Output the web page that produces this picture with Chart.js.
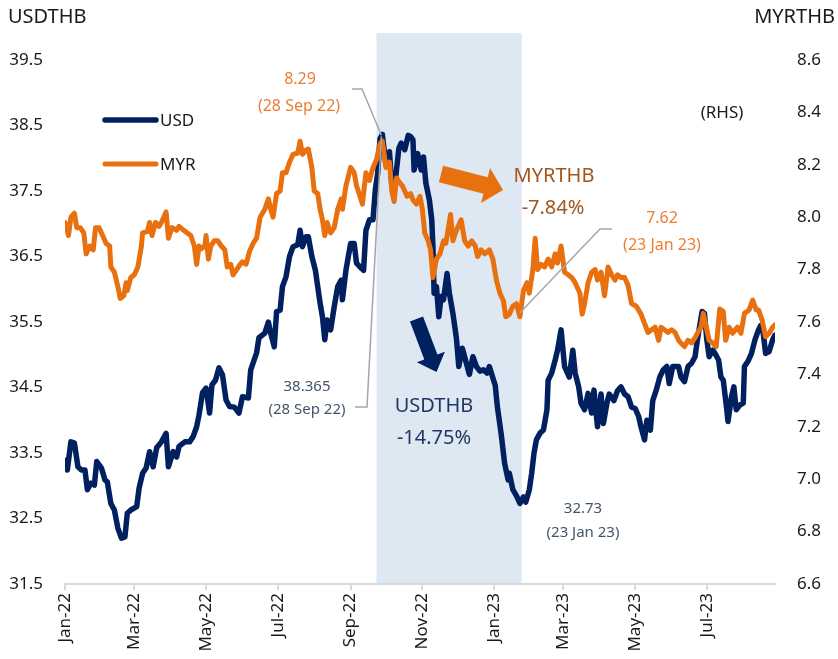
<!DOCTYPE html>
<html>
<head>
<meta charset="utf-8">
<script src="https://cdn.jsdelivr.net/npm/chart.js@4.4.0/dist/chart.umd.min.js"></script>
<style>
html, body { margin: 0; padding: 0; background: #fff; }
</style>
</head>
<body>
<canvas id="chart" width="838" height="659"></canvas>
<script>
// x values are days counted from 1 Jan 2022
let usdDay = [
    0, 2, 5, 8, 11, 14, 17, 19, 22, 25,
    27, 31, 34, 36, 39, 42, 45, 48, 51, 53,
    56, 61, 63, 66, 69, 72, 75, 78, 82, 86,
    88, 92, 95, 97, 102, 106, 109, 112, 114, 117,
    120, 123, 125, 128, 131, 134, 137, 140, 144, 148,
    151, 156, 158, 163, 165, 170, 173, 175, 178, 180,
    183, 185, 188, 191, 194, 198, 200, 202, 205, 207,
    210, 213, 215, 217, 219, 221, 223, 226, 229, 232,
    235, 236, 239, 243, 246, 248, 251, 254, 256, 259,
    262, 264, 266, 268, 270, 273, 276, 278, 280, 282,
    284, 286, 289, 292, 294, 296, 297, 300, 303, 305,
    307, 310, 312, 313, 314, 316, 318, 320, 322, 325,
    327, 330, 333, 335, 338, 341, 344, 347, 350, 353,
    356, 359, 361, 366, 368, 371, 374, 377, 378, 381,
    384, 387, 390, 392, 395, 397, 399, 401, 404, 407,
    410, 411, 414, 417, 419, 422, 425, 429, 432, 434,
    437, 439, 442, 445, 448, 450, 453, 456, 458, 461,
    463, 467, 470, 473, 476, 479, 482, 485, 488, 490,
    493, 495, 498, 500, 503, 506, 509, 512, 514, 517,
    522, 524, 527, 530, 533, 536, 538, 542, 544, 546,
    548, 551, 553, 556, 558, 560, 563, 564, 567, 569,
    571, 574, 577, 578, 581, 584, 587, 590, 592, 594,
    596, 599, 602, 604
];
let usdRate = [
    33.39, 33.24, 33.67, 33.65, 33.29, 33.24, 33.24, 32.94, 33.04, 33.01,
    33.37, 33.27, 33.09, 33.06, 32.73, 32.63, 32.35, 32.20, 32.22, 32.58,
    32.63, 32.68, 32.96, 33.19, 33.27, 33.52, 33.29, 33.58, 33.67, 33.80,
    33.29, 33.52, 33.44, 33.60, 33.67, 33.67, 33.75, 33.90, 34.08, 34.42,
    34.49, 34.11, 34.54, 34.61, 34.80, 34.69, 34.31, 34.21, 34.20, 34.11,
    34.36, 34.34, 34.77, 35.03, 35.26, 35.33, 35.50, 35.33, 35.12, 35.66,
    35.68, 36.04, 36.19, 36.50, 36.65, 36.68, 36.90, 36.65, 36.80, 36.80,
    36.50, 36.29, 36.04, 35.79, 35.58, 35.23, 35.53, 35.38, 35.73, 36.04,
    36.14, 35.84, 36.29, 36.70, 36.70, 36.40, 36.34, 36.29, 36.90, 37.06,
    37.06, 37.52, 37.77, 38.30, 38.365, 37.90, 38.10, 37.60, 37.47, 37.82,
    38.15, 38.23, 38.13, 38.35, 38.33, 38.28, 37.82, 38.07, 37.82, 38.02,
    37.62, 37.36, 37.06, 36.65, 35.94, 36.04, 35.58, 35.89, 35.84, 36.24,
    35.94, 35.63, 35.25, 34.82, 35.10, 34.90, 34.70, 34.97, 34.82, 34.75,
    34.77, 34.72, 34.82, 34.53, 34.18, 33.80, 33.34, 33.09, 33.19, 32.94,
    32.85, 32.73, 32.83, 32.75, 32.94, 33.19, 33.50, 33.70, 33.80, 33.85,
    34.16, 34.61, 34.72, 34.92, 35.07, 35.38, 34.82, 34.66, 35.07, 34.72,
    34.51, 34.26, 34.16, 34.41, 34.11, 34.46, 33.90, 34.40, 33.95, 34.26,
    34.40, 34.30, 34.45, 34.51, 34.40, 34.36, 34.20, 34.18, 34.06, 33.90,
    33.70, 34.00, 33.85, 34.30, 34.46, 34.66, 34.77, 34.82, 34.56, 34.82,
    34.82, 34.66, 34.59, 34.82, 34.87, 34.97, 35.23, 35.66, 35.63, 35.23,
    34.97, 35.07, 35.02, 34.92, 34.66, 34.61, 34.16, 33.98, 34.36, 34.51,
    34.16, 34.23, 34.26, 34.82, 34.90, 35.02, 35.23, 35.38, 35.45, 35.33,
    35.02, 35.05, 35.23, 35.30
];

let myrDay = [
    0, 3, 5, 8, 10, 13, 16, 18, 21, 24,
    26, 29, 32, 35, 38, 39, 42, 45, 47, 50,
    52, 53, 56, 59, 62, 65, 66, 70, 72, 74,
    77, 80, 82, 86, 88, 91, 95, 97, 101, 104,
    107, 110, 112, 114, 116, 119, 120, 122, 124, 127,
    130, 133, 136, 138, 141, 143, 146, 149, 151, 154,
    157, 160, 163, 166, 170, 173, 175, 177, 180, 183,
    185, 188, 191, 194, 198, 200, 202, 205, 207, 210,
    212, 215, 217, 219, 221, 223, 226, 229, 232, 235,
    236, 239, 243, 246, 248, 251, 253, 256, 259, 262,
    265, 268, 270, 273, 276, 278, 280, 282, 285, 287,
    291, 294, 296, 299, 302, 304, 306, 309, 311, 313,
    316, 319, 322, 324, 328, 330, 333, 337, 340, 343,
    346, 349, 351, 354, 357, 361, 364, 367, 370, 373,
    375, 378, 381, 384, 387, 390, 393, 395, 398, 400,
    402, 405, 408, 411, 414, 417, 419, 422, 425, 428,
    431, 434, 437, 438, 440, 442, 445, 448, 451, 453,
    456, 459, 462, 465, 468, 470, 473, 476, 479, 482,
    486, 490, 493, 496, 499, 502, 505, 507, 510, 513,
    516, 519, 522, 524, 527, 530, 533, 536, 538, 541,
    543, 546, 548, 551, 554, 557, 560, 562, 565, 568,
    572, 575, 578, 582, 585, 588, 590, 593, 596, 599,
    602, 604
];
let myrRate = [
    7.98, 7.93, 8.00, 8.015, 7.96, 7.96, 7.94, 7.86, 7.89, 7.875,
    7.96, 7.96, 7.93, 7.90, 7.89, 7.81, 7.79, 7.735, 7.69, 7.70,
    7.75, 7.72, 7.77, 7.78, 7.81, 7.89, 7.94, 7.945, 7.98, 7.93,
    7.98, 7.965, 7.98, 8.02, 7.92, 7.96, 7.95, 7.965, 7.95, 7.94,
    7.93, 7.89, 7.82, 7.89, 7.88, 7.89, 7.93, 7.84, 7.89, 7.91,
    7.91, 7.89, 7.875, 7.81, 7.82, 7.78, 7.80, 7.82, 7.83, 7.82,
    7.87, 7.90, 7.92, 8.00, 8.03, 8.07, 8.03, 8.00, 8.09, 8.10,
    8.17, 8.17, 8.21, 8.24, 8.245, 8.29, 8.24, 8.256, 8.26, 8.19,
    8.10, 8.09, 8.03, 7.99, 7.93, 7.98, 7.94, 7.96, 8.03, 8.07,
    8.03, 8.12, 8.19, 8.17, 8.12, 8.08, 8.05, 8.17, 8.14, 8.19,
    8.22, 8.28, 8.29, 8.19, 8.21, 8.10, 8.06, 8.15, 8.13, 8.12,
    8.08, 8.09, 8.066, 8.05, 8.08, 8.03, 7.94, 7.91, 7.875, 7.77,
    7.84, 7.86, 7.91, 7.90, 8.01, 7.91, 7.95, 7.99, 7.91, 7.89,
    7.91, 7.89, 7.85, 7.875, 7.86, 7.875, 7.84, 7.76, 7.71, 7.68,
    7.62, 7.63, 7.66, 7.67, 7.62, 7.72, 7.75, 7.71, 7.80, 7.92,
    7.80, 7.82, 7.81, 7.84, 7.81, 7.86, 7.825, 7.89, 7.79, 7.78,
    7.77, 7.75, 7.72, 7.71, 7.63, 7.67, 7.75, 7.79, 7.80, 7.76,
    7.79, 7.70, 7.81, 7.78, 7.76, 7.78, 7.77, 7.77, 7.74, 7.67,
    7.66, 7.63, 7.595, 7.56, 7.57, 7.58, 7.53, 7.58, 7.57, 7.56,
    7.57, 7.56, 7.53, 7.52, 7.506, 7.53, 7.52, 7.54, 7.557, 7.58,
    7.633, 7.57, 7.53, 7.52, 7.506, 7.65, 7.64, 7.53, 7.58, 7.557,
    7.58, 7.557, 7.633, 7.646, 7.684, 7.646, 7.646, 7.608, 7.544, 7.557,
    7.58, 7.589
];

let monthTicks = [0, 59, 120, 181, 243, 304, 365, 424, 485, 546];
let monthLabels = ["Jan-22", "Mar-22", "May-22", "Jul-22", "Sep-22", "Nov-22", "Jan-23", "Mar-23", "May-23", "Jul-23"];
let usdTicks = [31.5, 32.5, 33.5, 34.5, 35.5, 36.5, 37.5, 38.5, 39.5];
let myrTicks = [6.6, 6.8, 7.0, 7.2, 7.4, 7.6, 7.8, 8.0, 8.2, 8.4, 8.6];

// shaded period (days) and the two dates that are labelled
let shadeFrom = 265, shadeTo = 388.5;
let peakDay = 270, lowDay = 387;

const FONT = '"Noto Sans", "DejaVu Sans", sans-serif';
const NAVY = "#002060";
const ORANGE = "#E8700E";

Chart.defaults.font.family = FONT;

function blockArrow(ctx, x0, y0, x1, y1, shaft, head, headLen, color) {
    let len = Math.hypot(x1 - x0, y1 - y0);
    ctx.save();
    ctx.translate(x0, y0);
    ctx.rotate(Math.atan2(y1 - y0, x1 - x0));
    ctx.beginPath();
    ctx.moveTo(0, -shaft / 2);
    ctx.lineTo(len - headLen, -shaft / 2);
    ctx.lineTo(len - headLen, -head / 2);
    ctx.lineTo(len, 0);
    ctx.lineTo(len - headLen, head / 2);
    ctx.lineTo(len - headLen, shaft / 2);
    ctx.lineTo(0, shaft / 2);
    ctx.closePath();
    ctx.fillStyle = color;
    ctx.fill();
    ctx.restore();
}

function polyline(ctx, pts) {
    ctx.beginPath();
    ctx.moveTo(pts[0][0], pts[0][1]);
    for (let i = 1; i < pts.length; i++) ctx.lineTo(pts[i][0], pts[i][1]);
    ctx.stroke();
}

// background band for the Sep 22 - Jan 23 period
let shadePlugin = {
    id: "shade",
    beforeDatasetsDraw(chart) {
        let ctx = chart.ctx;
        let x = chart.scales.x, y = chart.scales.y;
        let left = x.getPixelForValue(shadeFrom);
        let right = x.getPixelForValue(shadeTo);
        let top = y.getPixelForValue(39.91);
        let bottom = y.getPixelForValue(31.5) - 1;
        ctx.save();
        ctx.fillStyle = "#DEE8F3";
        ctx.fillRect(left, top, right - left, bottom - top);
        ctx.restore();
    }
};

// titles, legend, call-outs and arrows
let notesPlugin = {
    id: "notes",
    afterDraw(chart) {
        let ctx = chart.ctx;
        let x = chart.scales.x, y = chart.scales.y, y1 = chart.scales.y1;
        ctx.save();

        ctx.fillStyle = "#1a1a1a";
        ctx.textBaseline = "middle";
        ctx.font = "20px " + FONT;
        ctx.textAlign = "left";
        ctx.fillText("USDTHB", 8, 17);
        ctx.textAlign = "right";
        ctx.fillText("MYRTHB", 835, 17);

        ctx.font = "17px " + FONT;
        ctx.textAlign = "center";
        ctx.fillText("(RHS)", 722, 113);

        // legend
        chart.data.datasets.forEach((ds, i) => {
            let ly = 120 + i * 44;
            ctx.strokeStyle = ds.borderColor;
            ctx.lineWidth = ds.borderWidth;
            ctx.lineCap = "round";
            polyline(ctx, [[105, ly], [156, ly]]);
            ctx.fillStyle = "#1a1a1a";
            ctx.textAlign = "left";
            ctx.font = "17px " + FONT;
            ctx.fillText(ds.label, 160, ly + 1);
        });

        // leader lines
        let peakUsd = usdRate[usdDay.indexOf(peakDay)];
        let peakMyr = myrRate[myrDay.indexOf(peakDay)];
        let lowMyr = myrRate[myrDay.indexOf(lowDay)];
        ctx.strokeStyle = "#A6A6A6";
        ctx.lineWidth = 1.5;
        ctx.lineCap = "butt";
        polyline(ctx, [[352, 89], [362, 89], [x.getPixelForValue(peakDay) - 1, y1.getPixelForValue(peakMyr) - 6]]);
        polyline(ctx, [[355, 407], [367, 407], [x.getPixelForValue(peakDay) - 1, y.getPixelForValue(peakUsd) + 2]]);
        polyline(ctx, [[612, 229], [600, 229], [x.getPixelForValue(lowDay), y1.getPixelForValue(lowMyr) - 4]]);

        // value call-outs
        ctx.textAlign = "center";
        ctx.font = "16px " + FONT;
        ctx.fillStyle = "#ED7D31";
        ctx.fillText(peakMyr.toFixed(2), 300, 79);
        ctx.fillText("(28 Sep 22)", 299, 106);
        ctx.fillText(lowMyr.toFixed(2), 662, 218);
        ctx.fillText("(23 Jan 23)", 662, 245);

        ctx.font = "15px " + FONT;
        ctx.fillStyle = "#44546A";
        ctx.fillText(peakUsd.toFixed(3), 307, 387);
        ctx.fillText("(28 Sep 22)", 307, 410);
        ctx.fillText(usdRate[usdDay.indexOf(lowDay)].toFixed(2), 583, 509);
        ctx.fillText("(23 Jan 23)", 583, 533);

        // change over the period
        ctx.font = "20px " + FONT;
        ctx.fillStyle = "#A0561C";
        ctx.fillText("MYRTHB", 554, 176);
        ctx.fillText("-7.84%", 553, 208);
        ctx.fillStyle = "#1F3864";
        ctx.fillText("USDTHB", 434, 406);
        ctx.fillText("-14.75%", 434, 438);

        blockArrow(ctx, 441, 174, 503, 190, 17, 36, 18, ORANGE);
        blockArrow(ctx, 416.5, 319, 436.5, 372, 14, 30, 16, NAVY);

        ctx.restore();
    }
};

new Chart(document.getElementById("chart"), {
    type: "line",
    data: {
        datasets: [
            {
                label: "USD",
                data: usdDay.map((d, i) => ({ x: d, y: usdRate[i] })),
                yAxisID: "y",
                borderColor: NAVY,
                borderWidth: 5.5,
                order: 2
            },
            {
                label: "MYR",
                data: myrDay.map((d, i) => ({ x: d, y: myrRate[i] })),
                yAxisID: "y1",
                borderColor: ORANGE,
                borderWidth: 5,
                order: 1
            }
        ]
    },
    options: {
        responsive: false,
        animation: false,
        devicePixelRatio: 1,
        elements: {
            point: { radius: 0 },
            line: { tension: 0, borderJoinStyle: "round", borderCapStyle: "round" }
        },
        layout: { padding: { top: 60, left: 0, right: 0, bottom: 0 } },
        plugins: {
            legend: { display: false },
            tooltip: { enabled: false }
        },
        scales: {
            x: {
                type: "linear",
                min: 0,
                max: 604,
                afterBuildTicks: (s) => { s.ticks = monthTicks.map((v) => ({ value: v })); },
                afterFit: (s) => { s.height = 75; },
                ticks: {
                    autoSkip: false,
                    maxRotation: 90,
                    minRotation: 90,
                    padding: 3,
                    color: "#1a1a1a",
                    font: { size: 17 },
                    callback: (v) => monthLabels[monthTicks.indexOf(v)]
                },
                grid: { drawOnChartArea: false, tickLength: 6, color: "#d9d9d9", lineWidth: 2 },
                border: { color: "#d9d9d9", width: 2 }
            },
            y: {
                position: "left",
                min: 31.5,
                max: 39.5,
                afterBuildTicks: (s) => { s.ticks = usdTicks.map((v) => ({ value: v })); },
                afterFit: (s) => { s.width = 65; },
                ticks: { padding: 22, color: "#1a1a1a", font: { size: 17 }, callback: (v) => v.toFixed(1) },
                grid: { display: false, drawTicks: false },
                border: { display: false }
            },
            y1: {
                position: "right",
                min: 6.6,
                max: 8.6,
                afterBuildTicks: (s) => { s.ticks = myrTicks.map((v) => ({ value: v })); },
                afterFit: (s) => { s.width = 63; },
                ticks: { padding: 22, color: "#1a1a1a", font: { size: 17 }, callback: (v) => v.toFixed(1) },
                grid: { display: false, drawTicks: false },
                border: { display: false }
            }
        }
    },
    plugins: [shadePlugin, notesPlugin]
});
</script>
</body>
</html>
